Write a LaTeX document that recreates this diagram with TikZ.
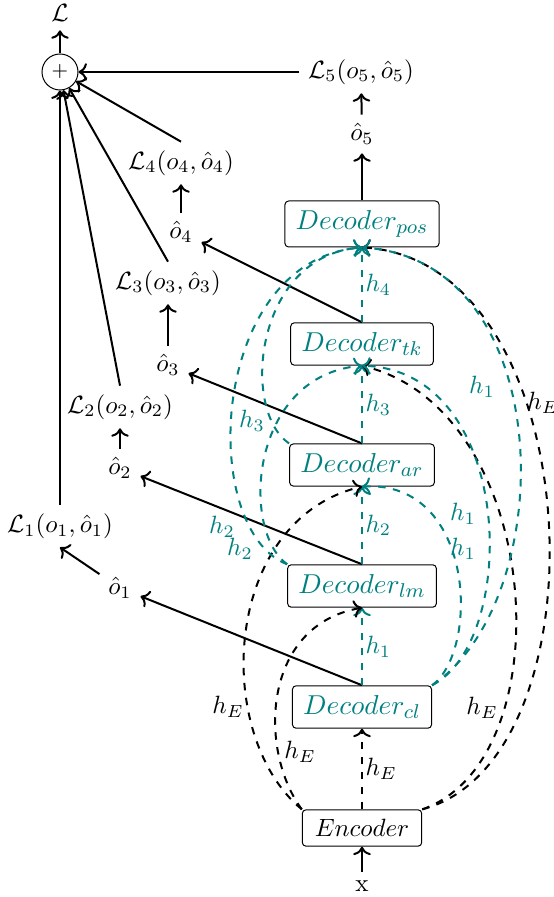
\documentclass[tikz,border=0pt]{standalone}
\usetikzlibrary{arrows.meta}
\begin{document}
\begin{tikzpicture}[x=0.4pt,y=-0.4pt,
  box/.style={draw,rounded corners=1.5pt,inner xsep=4.3pt,inner ysep=3.8pt,text=teal,thin,font=\fontsize{11}{13}\selectfont},
  encbox/.style={draw,rounded corners=1.5pt,inner xsep=5pt,inner ysep=3.8pt,thin},
  conn/.style={thick,->},
  dconn/.style={thick,dashed,->},
  tconn/.style={thick,dashed,->,teal},
  tlab/.style={text=teal,inner sep=1pt},
  blab/.style={inner sep=1pt},
]
\useasboundingbox (0,0) rectangle (553,897);
% loss side
\node (Lsum) at (60,13) {$\mathcal{L}$};
\node[draw,circle,minimum size=14.4pt,inner sep=0pt,font=\footnotesize] (circ) at (60,72) {$+$};
\node (L5) at (361,72) {$\mathcal{L}_5(o_5,\hat{o}_5)$};
\node (o5) at (362,134) {$\hat{o}_5$};
\node (L4) at (181,163) {$\mathcal{L}_4(o_4,\hat{o}_4)$};
\node (o4) at (181,232) {$\hat{o}_4$};
\node (L3) at (168,283) {$\mathcal{L}_3(o_3,\hat{o}_3)$};
\node (o3) at (168,365) {$\hat{o}_3$};
\node (L2) at (120,407) {$\mathcal{L}_2(o_2,\hat{o}_2)$};
\node (o2) at (120,468) {$\hat{o}_2$};
\node (L1) at (60,526) {$\mathcal{L}_1(o_1,\hat{o}_1)$};
\node (o1) at (120,588) {$\hat{o}_1$};
% model
\node[box] (pos) at (362,224) {$Decoder_{pos}$};
\node[box] (tk) at (362,344) {$Decoder_{tk}$};
\node[box] (ar) at (362,465) {$Decoder_{ar}$};
\node[box] (lm) at (362,586) {$Decoder_{lm}$};
\node[box] (cl) at (362,707) {$Decoder_{cl}$};
\node[encbox] (enc) at (362,828) {$Encoder$};
\node (xin) at (362,886) {x};
% solid arrows
\draw[conn] (circ) -- (Lsum);
\draw[conn] (L5) -- (circ);
\draw[conn] (L4.north) -- (circ);
\draw[conn] (L3.north) -- (circ);
\draw[conn] (L2.north) -- (circ);
\draw[conn] (L1.north) -- (circ);
\draw[conn] (o5) -- (L5);
\draw[conn] (o4) -- (L4);
\draw[conn] (o3) -- (L3);
\draw[conn] (o2) -- (L2);
\draw[conn] (o1) -- (L1.south);
\draw[conn] (pos) -- (o5);
\draw[conn] (tk.north) -- (o4);
\draw[conn] (ar.north) -- (o3);
\draw[conn] (lm.north) -- (o2);
\draw[conn] (cl.north) -- (o1);
\draw[conn] (xin) -- (enc);
% straight dashed
\draw[dconn] (enc) -- node[blab,right] {$h_E$} (cl);
\draw[tconn] (cl) -- node[tlab,right] {$h_1$} (lm);
\draw[tconn] (lm) -- node[tlab,right] {$h_2$} (ar);
\draw[tconn] (ar) -- node[tlab,right] {$h_3$} (tk);
\draw[tconn] (tk) -- node[tlab,right] {$h_4$} (pos);
% encoder skip curves
\draw[dconn] (enc.north west) .. controls (258,750) and (262,625) .. (lm.south);
\draw[dconn] (enc.north west) .. controls (212,735) and (222,520) .. (ar.south);
\draw[dconn] (enc.north east) .. controls (565,760) and (545,410) .. (tk.south);
\draw[dconn] (enc.north east) .. controls (610,760) and (590,260) .. (pos.south);
\node[blab] at (228,707) {$h_E$};
\node[blab] at (300,752) {$h_E$};
\node[blab] at (482,708) {$h_E$};
\node[blab] at (543,403) {$h_E$};
% teal skip curves
\draw[tconn] (cl.north east) .. controls (480,650) and (475,480) .. (ar.south);
\draw[tconn] (cl.north east) .. controls (520,640) and (515,370) .. (tk.south);
\draw[tconn] (cl.north east) .. controls (560,600) and (560,260) .. (pos.south);
\draw[tconn] (lm.north west) .. controls (240,530) and (250,375) .. (tk.south);
\draw[tconn] (lm.north west) .. controls (198,530) and (208,260) .. (pos.south);
\draw[tconn] (ar.north west) .. controls (240,410) and (255,255) .. (pos.south);
\node[tlab] at (463,514) {$h_1$};
\node[tlab] at (463,549) {$h_1$};
\node[tlab] at (482,387) {$h_1$};
\node[tlab] at (222,527) {$h_2$};
\node[tlab] at (240,549) {$h_2$};
\node[tlab] at (252,421) {$h_3$};
\end{tikzpicture}
\end{document}
